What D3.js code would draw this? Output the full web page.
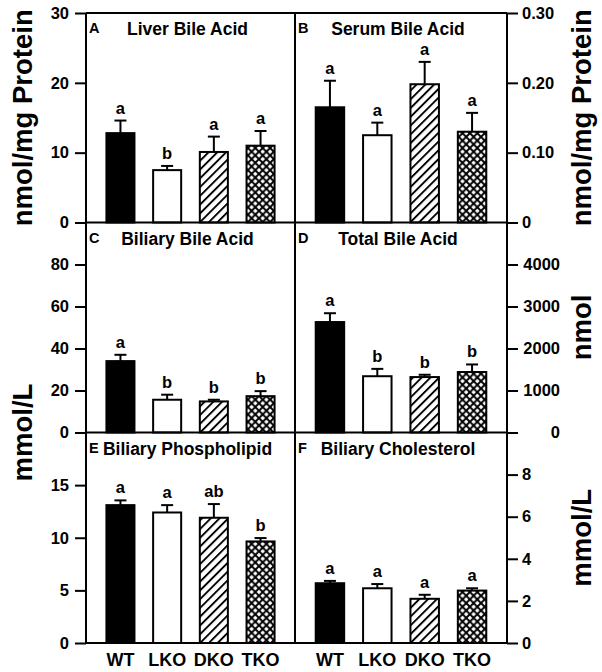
<!DOCTYPE html>
<html>
<head>
<meta charset="utf-8">
<script src="https://cdn.jsdelivr.net/npm/d3@7/dist/d3.min.js"></script>
<style>
  html, body { margin: 0; padding: 0; background: #fff; }
  svg { display: block; font-family: "Liberation Sans", Arial, sans-serif; font-weight: bold; }
</style>
</head>
<body>
<svg id="chart" width="602" height="672"></svg>
<script>
// ---------- DATA ----------
const categories = ["WT", "LKO", "DKO", "TKO"];

const liverBileAcid      = [12.8, 7.5, 10.1, 11.0];
const liverBileAcidErr   = [1.8, 0.6, 2.2, 2.1];
const liverBileAcidSig   = ["a", "b", "a", "a"];

const serumBileAcid      = [0.165, 0.125, 0.198, 0.130];
const serumBileAcidErr   = [0.038, 0.018, 0.032, 0.027];
const serumBileAcidSig   = ["a", "a", "a", "a"];

const biliaryBileAcid    = [34.0, 15.6, 14.8, 17.3];
const biliaryBileAcidErr = [3.0, 2.4, 0.8, 2.4];
const biliaryBileAcidSig = ["a", "b", "b", "b"];

const totalBileAcid      = [2630, 1340, 1320, 1440];
const totalBileAcidErr   = [210, 175, 55, 180];
const totalBileAcidSig   = ["a", "b", "b", "b"];

const biliaryPL          = [13.1, 12.4, 11.9, 9.65];
const biliaryPLErr       = [0.45, 0.7, 1.3, 0.32];
const biliaryPLSig       = ["a", "a", "ab", "b"];

const biliaryChol        = [2.84, 2.60, 2.10, 2.49];
const biliaryCholErr     = [0.11, 0.20, 0.19, 0.11];
const biliaryCholSig     = ["a", "a", "a", "a"];

const panelLetters = ["A", "B", "C", "D", "E", "F"];
const panelTitles  = ["Liver Bile Acid", "Serum Bile Acid", "Biliary Bile Acid",
                      "Total Bile Acid", "Biliary Phospholipid", "Biliary Cholesterol"];
const yDomainMax   = [30, 0.30, 100, 5000, 20, 10];
const tickValsA = [0, 10, 20, 30];
const tickValsB = [0, 0.10, 0.20, 0.30];
const tickValsC = [0, 20, 40, 60, 80];
const tickValsD = [0, 1000, 2000, 3000, 4000];
const tickValsE = [0, 5, 10, 15];
const tickValsF = [0, 2, 4, 6, 8];
const yTitleLeft  = ["nmol/mg Protein", "mmol/L"];
const yTitleRight = ["nmol/mg Protein", "nmol", "mmol/L"];

// ---------- LAYOUT ----------
const svg = d3.select("#chart");
const colX = [86, 295, 507];
const rowY = [13, 222.5, 432.5, 643];
const FONT = "'Liberation Sans', Arial, sans-serif";

// patterns
const defs = svg.append("defs");
const hatch = defs.append("pattern")
  .attr("id", "hatch").attr("patternUnits", "userSpaceOnUse")
  .attr("width", 6.2).attr("height", 6.2)
  .attr("patternTransform", "rotate(45)");
hatch.append("rect").attr("width", 6.2).attr("height", 6.2).attr("fill", "#fff");
hatch.append("line").attr("x1", 0).attr("y1", 0).attr("x2", 0).attr("y2", 6.2)
  .attr("stroke", "#000").attr("stroke-width", 3.8);

const pw = 7.4, dr = 2.3;
const cross = defs.append("pattern")
  .attr("id", "cross").attr("patternUnits", "userSpaceOnUse")
  .attr("width", pw).attr("height", pw).attr("x", 0).attr("y", 0);
cross.append("rect").attr("width", pw).attr("height", pw).attr("fill", "#000");
[[pw/2, pw/2], [0, 0], [pw, 0], [0, pw], [pw, pw]].forEach(([cx, cy]) => {
  cross.append("path")
    .attr("d", `M${cx},${cy-dr}L${cx+dr},${cy}L${cx},${cy+dr}L${cx-dr},${cy}Z`)
    .attr("fill", "#fff");
});
const fills = ["#000", "#fff", "url(#hatch)", "url(#cross)"];

const panels = [
  { vals: liverBileAcid,   err: liverBileAcidErr,   sig: liverBileAcidSig,   ticks: tickValsA, fmt: d3.format("d") },
  { vals: serumBileAcid,   err: serumBileAcidErr,   sig: serumBileAcidSig,   ticks: tickValsB, fmt: d => d === 0 ? "0" : d3.format(".2f")(d) },
  { vals: biliaryBileAcid, err: biliaryBileAcidErr, sig: biliaryBileAcidSig, ticks: tickValsC, fmt: d3.format("d") },
  { vals: totalBileAcid,   err: totalBileAcidErr,   sig: totalBileAcidSig,   ticks: tickValsD, fmt: d3.format("d") },
  { vals: biliaryPL,       err: biliaryPLErr,       sig: biliaryPLSig,       ticks: tickValsE, fmt: d3.format("d") },
  { vals: biliaryChol,     err: biliaryCholErr,     sig: biliaryCholSig,     ticks: tickValsF, fmt: d3.format("d") }
];

panels.forEach((p, i) => {
  const col = i % 2, row = Math.floor(i / 2);
  const x = d3.scaleBand().domain(categories)
    .range([colX[col], colX[col + 1]])
    .paddingInner(0.357).paddingOuter(0.416);
  const y = d3.scaleLinear().domain([0, yDomainMax[i]]).range([rowY[row + 1], rowY[row]]);
  const g = svg.append("g");

  // bars
  g.selectAll("rect.bar").data(p.vals).join("rect")
    .attr("class", "bar")
    .attr("x", (d, j) => x(categories[j]) + 1)
    .attr("width", x.bandwidth() - 2)
    .attr("y", d => y(d))
    .attr("height", d => y(0) - y(d))
    .attr("fill", (d, j) => fills[j])
    .attr("stroke", "#000").attr("stroke-width", 2);

  // error bars
  p.vals.forEach((v, j) => {
    const cx = x(categories[j]) + x.bandwidth() / 2;
    const top = y(v + p.err[j]);
    g.append("line").attr("x1", cx).attr("x2", cx).attr("y1", y(v)).attr("y2", top)
      .attr("stroke", "#000").attr("stroke-width", 2);
    g.append("line").attr("x1", cx - 6).attr("x2", cx + 6).attr("y1", top).attr("y2", top)
      .attr("stroke", "#000").attr("stroke-width", 2);
    g.append("text").attr("x", cx).attr("y", top - 7)
      .attr("text-anchor", "middle").attr("font-size", 16.5).attr("font-weight", "bold")
      .attr("font-family", FONT).text(p.sig[j]);
  });

  // axis
  const axis = (col === 0 ? d3.axisLeft(y) : d3.axisRight(y))
    .tickValues(p.ticks).tickFormat(p.fmt).tickSize(11).tickPadding(col === 0 ? 6 : 4);
  const ag = svg.append("g")
    .attr("transform", `translate(${col === 0 ? colX[0] : colX[2]},0)`)
    .call(axis);
  ag.select(".domain").remove();
  ag.selectAll(".tick line").attr("stroke", "#000").attr("stroke-width", 2);
  ag.selectAll(".tick text").attr("font-size", 16.5).attr("font-weight", "bold")
    .attr("font-family", FONT).attr("fill", "#000");
  if (i === 3) {
    ag.selectAll(".tick text").attr("text-anchor", "end").attr("x", 53);
  }

  // panel letter & title
  svg.append("text").attr("x", colX[col] + 3).attr("y", rowY[row] + 20)
    .attr("font-size", 14.5).attr("font-weight", "bold").attr("font-family", FONT)
    .text(panelLetters[i]);
  svg.append("text").attr("x", (colX[col] + colX[col + 1]) / 2 - 3).attr("y", rowY[row] + 22)
    .attr("text-anchor", "middle").attr("font-size", 17.5).attr("font-weight", "bold")
    .attr("font-family", FONT).text(panelTitles[i]);

  // x labels on bottom row
  if (row === 2) {
    categories.forEach(c => {
      svg.append("text").attr("x", x(c) + x.bandwidth() / 2).attr("y", 666)
        .attr("text-anchor", "middle").attr("font-size", 18).attr("font-weight", "bold")
        .attr("font-family", FONT).text(c);
    });
  }
});

// frame
const frame = svg.append("g").attr("stroke", "#000").attr("stroke-width", 2).attr("fill", "none");
colX.forEach(cx => frame.append("line").attr("x1", cx).attr("x2", cx).attr("y1", rowY[0]).attr("y2", rowY[3]));
rowY.forEach(ry => frame.append("line").attr("x1", colX[0]).attr("x2", colX[2]).attr("y1", ry).attr("y2", ry));

// axis titles
function vTitle(txt, xPos, yPos) {
  svg.append("text")
    .attr("transform", `translate(${xPos},${yPos}) rotate(-90)`)
    .attr("text-anchor", "middle").attr("font-size", 27.5).attr("font-weight", "bold")
    .attr("font-family", FONT).text(txt);
}
vTitle(yTitleLeft[0], 32, (rowY[0] + rowY[1]) / 2);
vTitle(yTitleLeft[1], 32, rowY[2]);
vTitle(yTitleRight[0], 591, (rowY[0] + rowY[1]) / 2);
vTitle(yTitleRight[1], 591, (rowY[1] + rowY[2]) / 2);
vTitle(yTitleRight[2], 591, (rowY[2] + rowY[3]) / 2);
</script>
</body>
</html>
